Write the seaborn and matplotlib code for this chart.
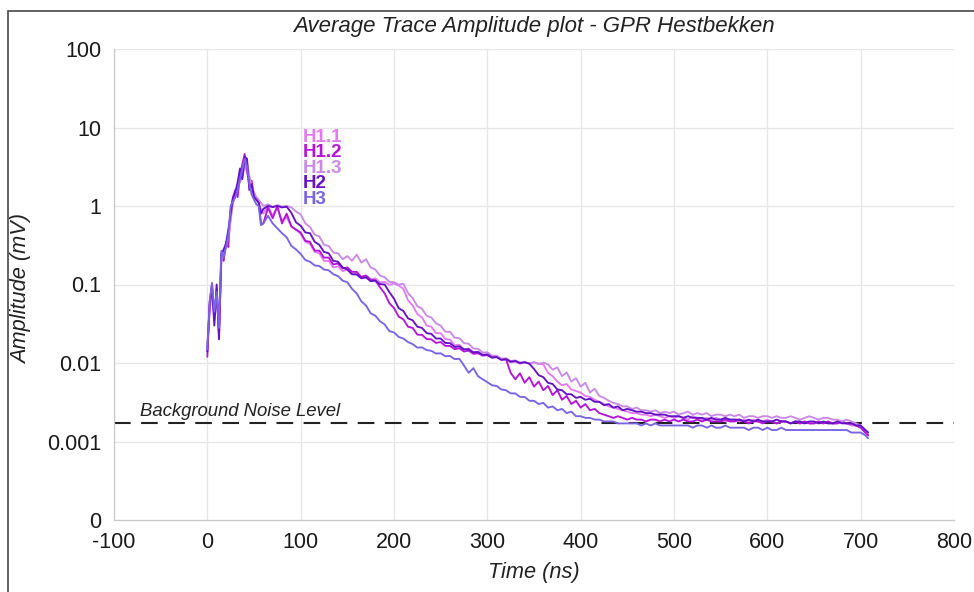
import numpy as np
import pandas as pd
import matplotlib
matplotlib.use("Agg")
import matplotlib.pyplot as plt
import seaborn as sns
from matplotlib.patches import Rectangle
from matplotlib.ticker import FixedLocator, FixedFormatter, NullLocator

# ---------------- data ----------------
time_ns = [
    0, 2.5, 5, 7.5, 10, 12.5, 15, 17.5, 20, 22.5, 25, 27.5,
    30, 32.5, 35, 37.5, 40, 42.5, 45, 47.5, 50, 52.5, 55, 57.5,
    60, 65, 70, 75, 80, 85, 90, 95,
    100, 105, 110, 115, 120, 125, 130, 135, 140, 145,
    150, 155, 160, 165, 170, 175, 180, 185, 190, 195,
    200, 205, 210, 215, 220, 225, 230, 235, 240, 245,
    250, 255, 260, 265, 270, 275, 280, 285, 290, 295,
    300, 305, 310, 315, 320, 325, 330, 335, 340, 345,
    350, 355, 360, 365, 370, 375, 380, 385, 390, 395,
    400, 405, 410, 415, 420, 425, 430, 435, 440, 445,
    450, 455, 460, 465, 470, 475, 480, 485, 490, 495,
    500, 505, 510, 515, 520, 525, 530, 535, 540, 545,
    550, 555, 560, 565, 570, 575, 580, 585, 590, 595,
    600, 605, 610, 615, 620, 625, 630, 635, 640, 645,
    650, 655, 660, 665, 670, 675, 680, 685, 690, 695,
    700, 705, 708,
]

h1_1 = [
    0.016, 0.05, 0.09, 0.04, 0.07, 0.025, 0.2, 0.24, 0.3, 0.45, 0.75, 1.2,
    1.4, 1.7, 2.2, 2.8, 3.6, 2.6, 2.2, 1.6, 1.4, 1.2, 1.1, 0.9,
    0.8, 1.0, 0.75, 0.95, 0.65, 0.72, 0.55, 0.5,
    0.44, 0.35, 0.33, 0.26, 0.25, 0.2, 0.2, 0.165, 0.17, 0.148,
    0.155, 0.135, 0.14, 0.125, 0.13, 0.115, 0.12, 0.106, 0.108, 0.099,
    0.103, 0.097, 0.088, 0.063, 0.054, 0.042, 0.038, 0.03, 0.029, 0.024,
    0.024, 0.0202, 0.0198, 0.0168, 0.0171, 0.0149, 0.0153, 0.0135, 0.014, 0.0126,
    0.013, 0.0118, 0.0122, 0.011, 0.0111, 0.0102, 0.0104, 0.0098, 0.0102, 0.0099,
    0.0101, 0.0098, 0.0096, 0.0075, 0.0068, 0.0058, 0.0052, 0.0054, 0.0046, 0.0044,
    0.0042, 0.0038, 0.0037, 0.0034, 0.0032, 0.003, 0.0028, 0.0027, 0.0026, 0.0025,
    0.0024, 0.0023, 0.0023, 0.0022, 0.0022, 0.0021, 0.0022, 0.0021, 0.002, 0.0021,
    0.002, 0.0021, 0.002, 0.0019, 0.0021, 0.002, 0.0019, 0.002, 0.0019, 0.002,
    0.0019, 0.0018, 0.0019, 0.0019, 0.0018, 0.0019, 0.0018, 0.0019, 0.0018, 0.0018,
    0.0019, 0.0018, 0.0017, 0.0018, 0.0018, 0.0017, 0.0018, 0.0017, 0.0018, 0.0017,
    0.0017, 0.0018, 0.0017, 0.0018, 0.0017, 0.0017, 0.0018, 0.0017, 0.0016, 0.0016,
    0.0015, 0.0013, 0.0012,
]

h1_2 = [
    0.012, 0.06, 0.1, 0.035, 0.09, 0.022, 0.25, 0.2, 0.35, 0.3, 0.9, 1.3,
    1.6, 1.3, 2.5, 3.4, 4.6, 3.0, 1.8, 2.1, 1.3, 1.25, 1.15, 0.6,
    0.6, 0.95, 0.7, 1.0, 0.6, 0.8, 0.55, 0.5,
    0.46, 0.36, 0.35, 0.27, 0.27, 0.22, 0.22, 0.18, 0.185, 0.16,
    0.165, 0.145, 0.145, 0.125, 0.13, 0.115, 0.113, 0.092, 0.077, 0.058,
    0.05, 0.039, 0.036, 0.029, 0.028, 0.023, 0.0228, 0.0202, 0.02, 0.018,
    0.0185, 0.0165, 0.0165, 0.015, 0.0154, 0.014, 0.0144, 0.0131, 0.0133, 0.0124,
    0.0126, 0.0117, 0.0119, 0.011, 0.0112, 0.0075, 0.0062, 0.0074, 0.0056, 0.0066,
    0.005, 0.0058, 0.0045, 0.0051, 0.0039, 0.0045, 0.0034, 0.0038, 0.003, 0.0033,
    0.0027, 0.003, 0.0025, 0.0026, 0.0023, 0.0022, 0.0021, 0.002, 0.0021, 0.002,
    0.0019, 0.002, 0.0019, 0.0019, 0.0018, 0.0019, 0.0019, 0.0018, 0.0019, 0.0018,
    0.0019, 0.0018, 0.0019, 0.0018, 0.0018, 0.0019, 0.0018, 0.0019, 0.0018, 0.0018,
    0.0018, 0.0019, 0.0018, 0.0018, 0.0019, 0.0018, 0.0017, 0.0018, 0.0018, 0.0017,
    0.0018, 0.0018, 0.0017, 0.0018, 0.0018, 0.0017, 0.0018, 0.0017, 0.0018, 0.0017,
    0.0017, 0.0018, 0.0017, 0.0018, 0.0017, 0.0017, 0.0018, 0.0017, 0.0017, 0.0016,
    0.0015, 0.0013, 0.0012,
]

h1_3 = [
    0.018, 0.045, 0.085, 0.05, 0.06, 0.03, 0.2, 0.26, 0.3, 0.4, 0.65, 1.1,
    1.3, 1.8, 2.0, 2.4, 3.2, 3.6, 2.4, 1.8, 1.5, 1.3, 1.2, 1.1,
    1.0, 1.05, 0.97, 1.03, 0.98, 1.0, 0.96, 0.85,
    0.78, 0.6, 0.54, 0.43, 0.41, 0.32, 0.31, 0.255, 0.25, 0.21,
    0.23, 0.2, 0.24, 0.19, 0.21, 0.165, 0.155, 0.13, 0.124, 0.108,
    0.107, 0.1, 0.102, 0.078, 0.067, 0.053, 0.049, 0.04, 0.038, 0.032,
    0.03, 0.025, 0.025, 0.021, 0.0207, 0.0179, 0.0176, 0.0153, 0.0152, 0.0136,
    0.0137, 0.0124, 0.0124, 0.0113, 0.0115, 0.0106, 0.0108, 0.0101, 0.0104, 0.0098,
    0.0103, 0.0097, 0.0101, 0.0096, 0.0082, 0.0088, 0.0068, 0.0076, 0.0058, 0.0064,
    0.005, 0.0056, 0.0042, 0.0047, 0.0038, 0.0036, 0.0033, 0.0031, 0.003, 0.0028,
    0.0028, 0.0026, 0.0027, 0.0025, 0.0025, 0.0024, 0.0025, 0.0023, 0.0024, 0.0023,
    0.0024, 0.0022, 0.0023, 0.0024, 0.0022, 0.0023, 0.0022, 0.0023, 0.0021, 0.0022,
    0.0022, 0.0021, 0.0022, 0.0021, 0.0022, 0.002, 0.0021, 0.0021, 0.002, 0.0021,
    0.0021, 0.002, 0.0021, 0.002, 0.002, 0.0021, 0.002, 0.0019, 0.002, 0.0021,
    0.002, 0.0019, 0.002, 0.002, 0.0019, 0.0019, 0.0018, 0.0019, 0.0018, 0.0017,
    0.0016, 0.0014, 0.0013,
]

h2 = [
    0.014, 0.055, 0.095, 0.03, 0.1, 0.02, 0.24, 0.28, 0.33, 0.5, 0.8, 1.25,
    1.5, 2.0, 3.0, 2.2, 4.2, 4.0, 1.6, 1.9, 1.3, 1.2, 1.1, 0.8,
    0.92, 1.0, 0.97, 1.0, 0.96, 0.98, 0.82, 0.62,
    0.56, 0.46, 0.45, 0.35, 0.32, 0.26, 0.25, 0.2, 0.195, 0.165,
    0.155, 0.135, 0.134, 0.12, 0.123, 0.11, 0.112, 0.101, 0.1, 0.08,
    0.066, 0.05, 0.046, 0.037, 0.035, 0.029, 0.028, 0.024, 0.0235, 0.0205,
    0.0205, 0.018, 0.0179, 0.016, 0.0163, 0.0149, 0.015, 0.0137, 0.0138, 0.0127,
    0.0128, 0.0118, 0.0119, 0.011, 0.0112, 0.0104, 0.0106, 0.01, 0.0102, 0.0098,
    0.0084, 0.007, 0.0066, 0.0056, 0.0054, 0.0046, 0.0045, 0.004, 0.004, 0.0036,
    0.0037, 0.0034, 0.0035, 0.0032, 0.0032, 0.0029, 0.003, 0.0027, 0.0028, 0.0025,
    0.0026, 0.0025, 0.0024, 0.0024, 0.0023, 0.0023, 0.0022, 0.0022, 0.0022, 0.0021,
    0.0021, 0.0021, 0.002, 0.0021, 0.002, 0.002, 0.002, 0.0019, 0.002, 0.0019,
    0.0019, 0.002, 0.0019, 0.0019, 0.0019, 0.0018, 0.0019, 0.0018, 0.0019, 0.0018,
    0.0018, 0.0018, 0.0019, 0.0018, 0.0018, 0.0017, 0.0018, 0.0018, 0.0017, 0.0018,
    0.0018, 0.0017, 0.0018, 0.0017, 0.0017, 0.0018, 0.0017, 0.0017, 0.0017, 0.0016,
    0.0016, 0.0014, 0.0013,
]

h3 = [
    0.015, 0.06, 0.105, 0.045, 0.08, 0.028, 0.27, 0.22, 0.3, 0.42, 1.0, 1.15,
    1.3, 1.6, 2.2, 3.0, 4.0, 3.2, 1.9, 1.4, 1.2, 1.05, 1.0, 0.57,
    0.6, 0.75, 0.6, 0.52, 0.45, 0.4, 0.31, 0.28,
    0.245, 0.205, 0.195, 0.175, 0.172, 0.155, 0.152, 0.135, 0.128, 0.112,
    0.107, 0.088, 0.077, 0.061, 0.054, 0.043, 0.04, 0.034, 0.031, 0.0255,
    0.0245, 0.0215, 0.0205, 0.0185, 0.0174, 0.0157, 0.0158, 0.0146, 0.0143, 0.0132,
    0.0133, 0.0122, 0.0123, 0.0112, 0.0113, 0.0093, 0.0075, 0.0086, 0.0068, 0.0062,
    0.0057, 0.0052, 0.0051, 0.0046, 0.0045, 0.0041, 0.0041, 0.0037, 0.0037, 0.0033,
    0.0033, 0.003, 0.0031, 0.0027, 0.0028, 0.0025, 0.0026, 0.0023, 0.0024, 0.0021,
    0.0021, 0.002, 0.002, 0.0019, 0.0019, 0.0018, 0.0018, 0.0018, 0.0017, 0.0017,
    0.0017, 0.0017, 0.0017, 0.0016, 0.0017, 0.0016, 0.0017, 0.0016, 0.0016, 0.0016,
    0.0016, 0.0016, 0.0016, 0.0016, 0.0015, 0.0016, 0.0016, 0.0015, 0.0016, 0.0015,
    0.0015, 0.0016, 0.0015, 0.0015, 0.0015, 0.0015, 0.0014, 0.0015, 0.0015, 0.0014,
    0.0015, 0.0014, 0.0014, 0.0015, 0.0014, 0.0014, 0.0014, 0.0014, 0.0014, 0.0014,
    0.0014, 0.0014, 0.0014, 0.0014, 0.0014, 0.0014, 0.0014, 0.0014, 0.0013, 0.0013,
    0.0013, 0.0012, 0.0011,
]

series_names = ["H1.1", "H1.2", "H1.3", "H2", "H3"]
series_values = [h1_1, h1_2, h1_3, h2, h3]
series_colors = ["#e27af0", "#b414d8", "#c98ae6", "#6412c4", "#7a64e2"]

noise_level = 0.0017
noise_label = "Background Noise Level"

x_ticks = [-100, 0, 100, 200, 300, 400, 500, 600, 700, 800]
y_ticks = [0.0001, 0.001, 0.01, 0.1, 1, 10, 100]
y_tick_labels = ["0", "0.001", "0.01", "0.1", "1", "10", "100"]

title = "Average Trace Amplitude plot - GPR Hestbekken"
x_label = "Time (ns)"
y_label = "Amplitude (mV)"

# ---------------- build long-form table ----------------
frames = []
for name, vals in zip(series_names, series_values):
    assert len(vals) == len(time_ns), (name, len(vals), len(time_ns))
    frames.append(pd.DataFrame({"Time": time_ns, "Amplitude": vals, "Series": name}))
df = pd.concat(frames, ignore_index=True)

# ---------------- style ----------------
sns.set_theme(style="white")
plt.rcParams["font.family"] = ["Liberation Sans", "DejaVu Sans"]

W, H = 974, 592
fig = plt.figure(figsize=(W / 100, H / 100), dpi=100)
ax = fig.add_axes([114 / W, 1 - 520 / H, (954 - 114) / W, (520 - 49) / H])

palette = dict(zip(series_names, series_colors))
sns.lineplot(data=df, x="Time", y="Amplitude", hue="Series", palette=palette,
             hue_order=series_names, linewidth=1.35, ax=ax, legend=False,
             estimator=None, sort=False)

ax.set_yscale("log")
ax.set_xlim(-100, 800)
ax.set_ylim(1e-4, 100)
ax.xaxis.set_major_locator(FixedLocator(x_ticks))
ax.set_xticklabels([str(v) for v in x_ticks])
ax.yaxis.set_major_locator(FixedLocator(y_ticks))
ax.yaxis.set_major_formatter(FixedFormatter(y_tick_labels))
ax.yaxis.set_minor_locator(NullLocator())

ax.grid(True, which="major", color="#e6e6e6", linewidth=0.9)
ax.set_axisbelow(True)
for s in ["top", "right"]:
    ax.spines[s].set_visible(False)
for s in ["left", "bottom"]:
    ax.spines[s].set_color("#c8c8c8")
    ax.spines[s].set_linewidth(0.9)
ax.tick_params(axis="both", which="major", direction="out", length=6,
               width=0.9, color="#b8b8b8", labelsize=15.5, labelcolor="#1a1a1a", pad=3)

# noise level
ax.axhline(noise_level, color="#222222", linewidth=1.5, linestyle=(0, (8, 5)), zorder=1)
ax.text(-72, noise_level * 1.12, noise_label, fontsize=13.3, style="italic",
        color="#222222", ha="left", va="bottom")

# series labels (coloured, bold)
for i, (name, col) in enumerate(zip(series_names, series_colors)):
    ax.text(0.225, 0.813 - i * 0.0329, name, transform=ax.transAxes,
            color=col, fontsize=13.5, fontweight="bold", ha="left", va="center")

ax.set_title(title, fontsize=16, style="italic", color="#222222", pad=12)
ax.set_xlabel(x_label, fontsize=15.7, style="italic", color="#222222", labelpad=6)
ax.set_ylabel(y_label, fontsize=15.7, style="italic", color="#222222")
ax.yaxis.set_label_coords(-0.097, 0.49)

# outer frame
fig.patches.append(Rectangle((8 / W, -0.1), 1.2, 1.1 - 11 / H, transform=fig.transFigure,
                             fill=False, edgecolor="#555555", linewidth=1.3))

fig.savefig("out.png", dpi=100)
